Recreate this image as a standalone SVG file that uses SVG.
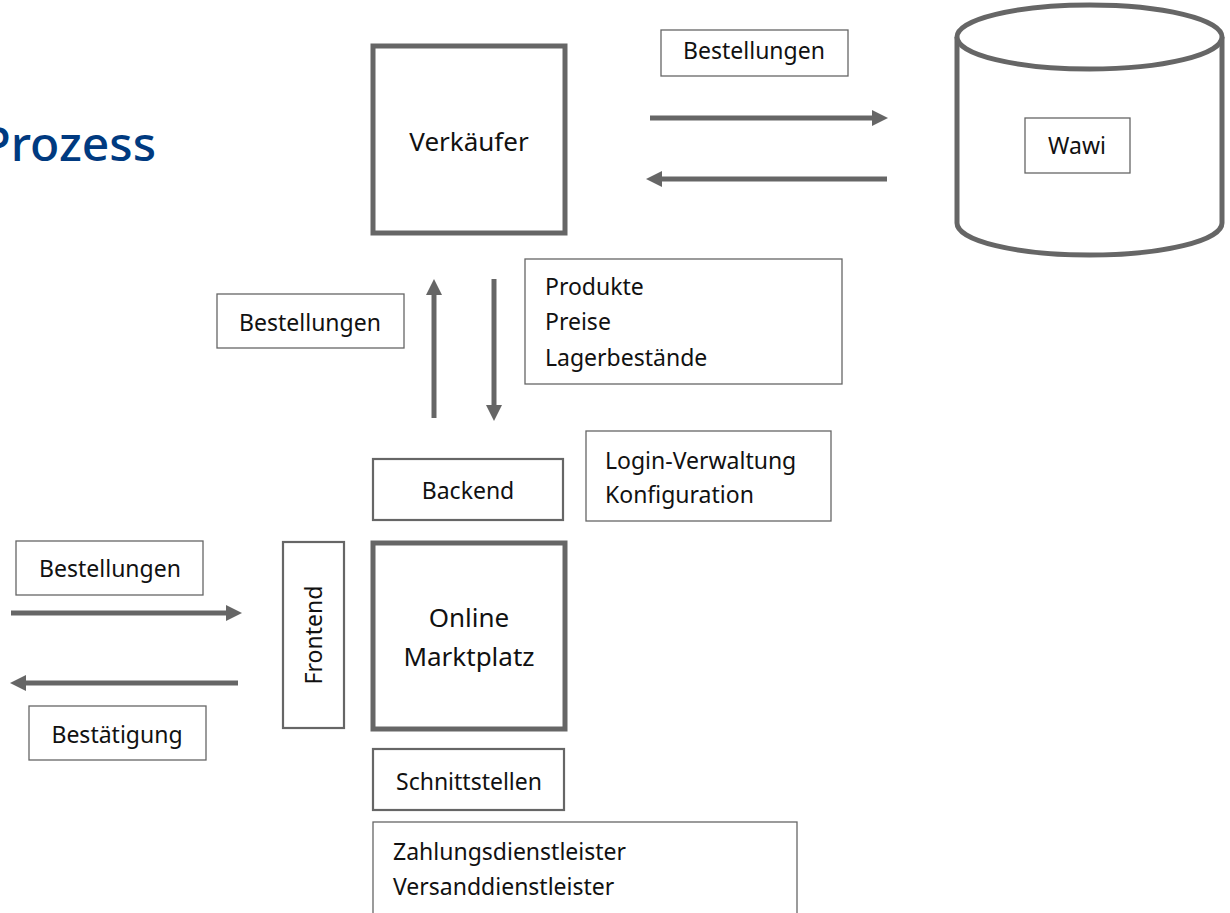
<svg xmlns="http://www.w3.org/2000/svg" width="1230" height="913" viewBox="0 0 1230 913">
<style>
.thick{fill:#fff;stroke:#666;stroke-width:5}
.thin{fill:#fff;stroke:#666;stroke-width:1.3}
.mid{fill:#fff;stroke:#666;stroke-width:2.2}
.t{font-family:"Noto Sans",sans-serif;font-size:23px;fill:#111}
.big{font-size:26px}
.c{text-anchor:middle}
.conn{stroke:#666;stroke-width:5;fill:none}
</style>
<defs>
<marker id="ah" viewBox="0 0 10 10" refX="0" refY="5" markerWidth="3.2" markerHeight="3.2" markerUnits="strokeWidth" orient="auto">
<path d="M0,0 L10,5 L0,10 z" fill="#666"/>
</marker>
</defs>
<rect width="1230" height="913" fill="#fff"/>
<text x="156" y="161" text-anchor="end" style="font-family:'Noto Sans',sans-serif;font-size:48px;font-weight:500;fill:#003a80">Prozess</text>

<g id="verkaeufer">
<rect class="thick" x="373" y="46" width="192" height="187"/>
<text class="t big c" x="469" y="151">Verkäufer</text>
</g>
<g id="lbl-bestellungen-top">
<rect class="thin" x="661" y="30" width="187" height="46"/>
<text class="t c" x="754" y="59">Bestellungen</text>
</g>
<g id="wawi">
<path class="thick" d="M957,37 L957,223 A132.5,32 0 0 0 1222,223 L1222,37"/>
<ellipse class="thick" cx="1089.5" cy="37" rx="132.5" ry="32"/>
<rect class="thin" x="1025" y="118" width="105" height="55"/>
<text class="t c" x="1077" y="154">Wawi</text>
</g>
<g id="lbl-bestellungen-mid">
<rect class="thin" x="217" y="294" width="187" height="54"/>
<text class="t c" x="310" y="331">Bestellungen</text>
</g>
<g id="lbl-produkte">
<rect class="thin" x="525" y="259" width="317" height="125"/>
<text class="t" x="545" y="295">Produkte</text>
<text class="t" x="545" y="330">Preise</text>
<text class="t" x="545" y="366">Lagerbestände</text>
</g>
<g id="backend">
<rect class="mid" x="373" y="459" width="190" height="61"/>
<text class="t c" x="468" y="499">Backend</text>
</g>
<g id="lbl-login">
<rect class="thin" x="586" y="431" width="245" height="90"/>
<text class="t" x="605" y="469">Login-Verwaltung</text>
<text class="t" x="605" y="503">Konfiguration</text>
</g>
<g id="marktplatz">
<rect class="thick" x="373" y="543" width="192" height="186"/>
<text class="t big c" x="469" y="627">Online</text>
<text class="t big c" x="469" y="666">Marktplatz</text>
</g>
<g id="frontend">
<rect class="mid" x="283" y="542" width="61" height="186"/>
<text class="t c" transform="translate(322,635) rotate(-90)" x="0" y="0">Frontend</text>
</g>
<g id="lbl-bestellungen-left">
<rect class="thin" x="16" y="541" width="187" height="54"/>
<text class="t c" x="110" y="577">Bestellungen</text>
</g>
<g id="lbl-bestaetigung">
<rect class="thin" x="29" y="706" width="177" height="54"/>
<text class="t c" x="117" y="743">Bestätigung</text>
</g>
<g id="schnittstellen">
<rect class="mid" x="373" y="749" width="191" height="61"/>
<text class="t c" x="469" y="790">Schnittstellen</text>
</g>
<g id="lbl-dienstleister">
<rect class="thin" x="373" y="822" width="424" height="95"/>
<text class="t" x="393" y="860">Zahlungsdienstleister</text>
<text class="t" x="393" y="895">Versanddienstleister</text>
</g>

<g id="connectors">
<line class="conn" x1="650" y1="118" x2="872" y2="118" marker-end="url(#ah)"/>
<line class="conn" x1="887" y1="179" x2="662" y2="179" marker-end="url(#ah)"/>
<line class="conn" x1="434" y1="418" x2="434" y2="295" marker-end="url(#ah)"/>
<line class="conn" x1="494" y1="279" x2="494" y2="405" marker-end="url(#ah)"/>
<line class="conn" x1="11" y1="613" x2="226" y2="613" marker-end="url(#ah)"/>
<line class="conn" x1="238" y1="683" x2="26" y2="683" marker-end="url(#ah)"/>
</g>
</svg>
